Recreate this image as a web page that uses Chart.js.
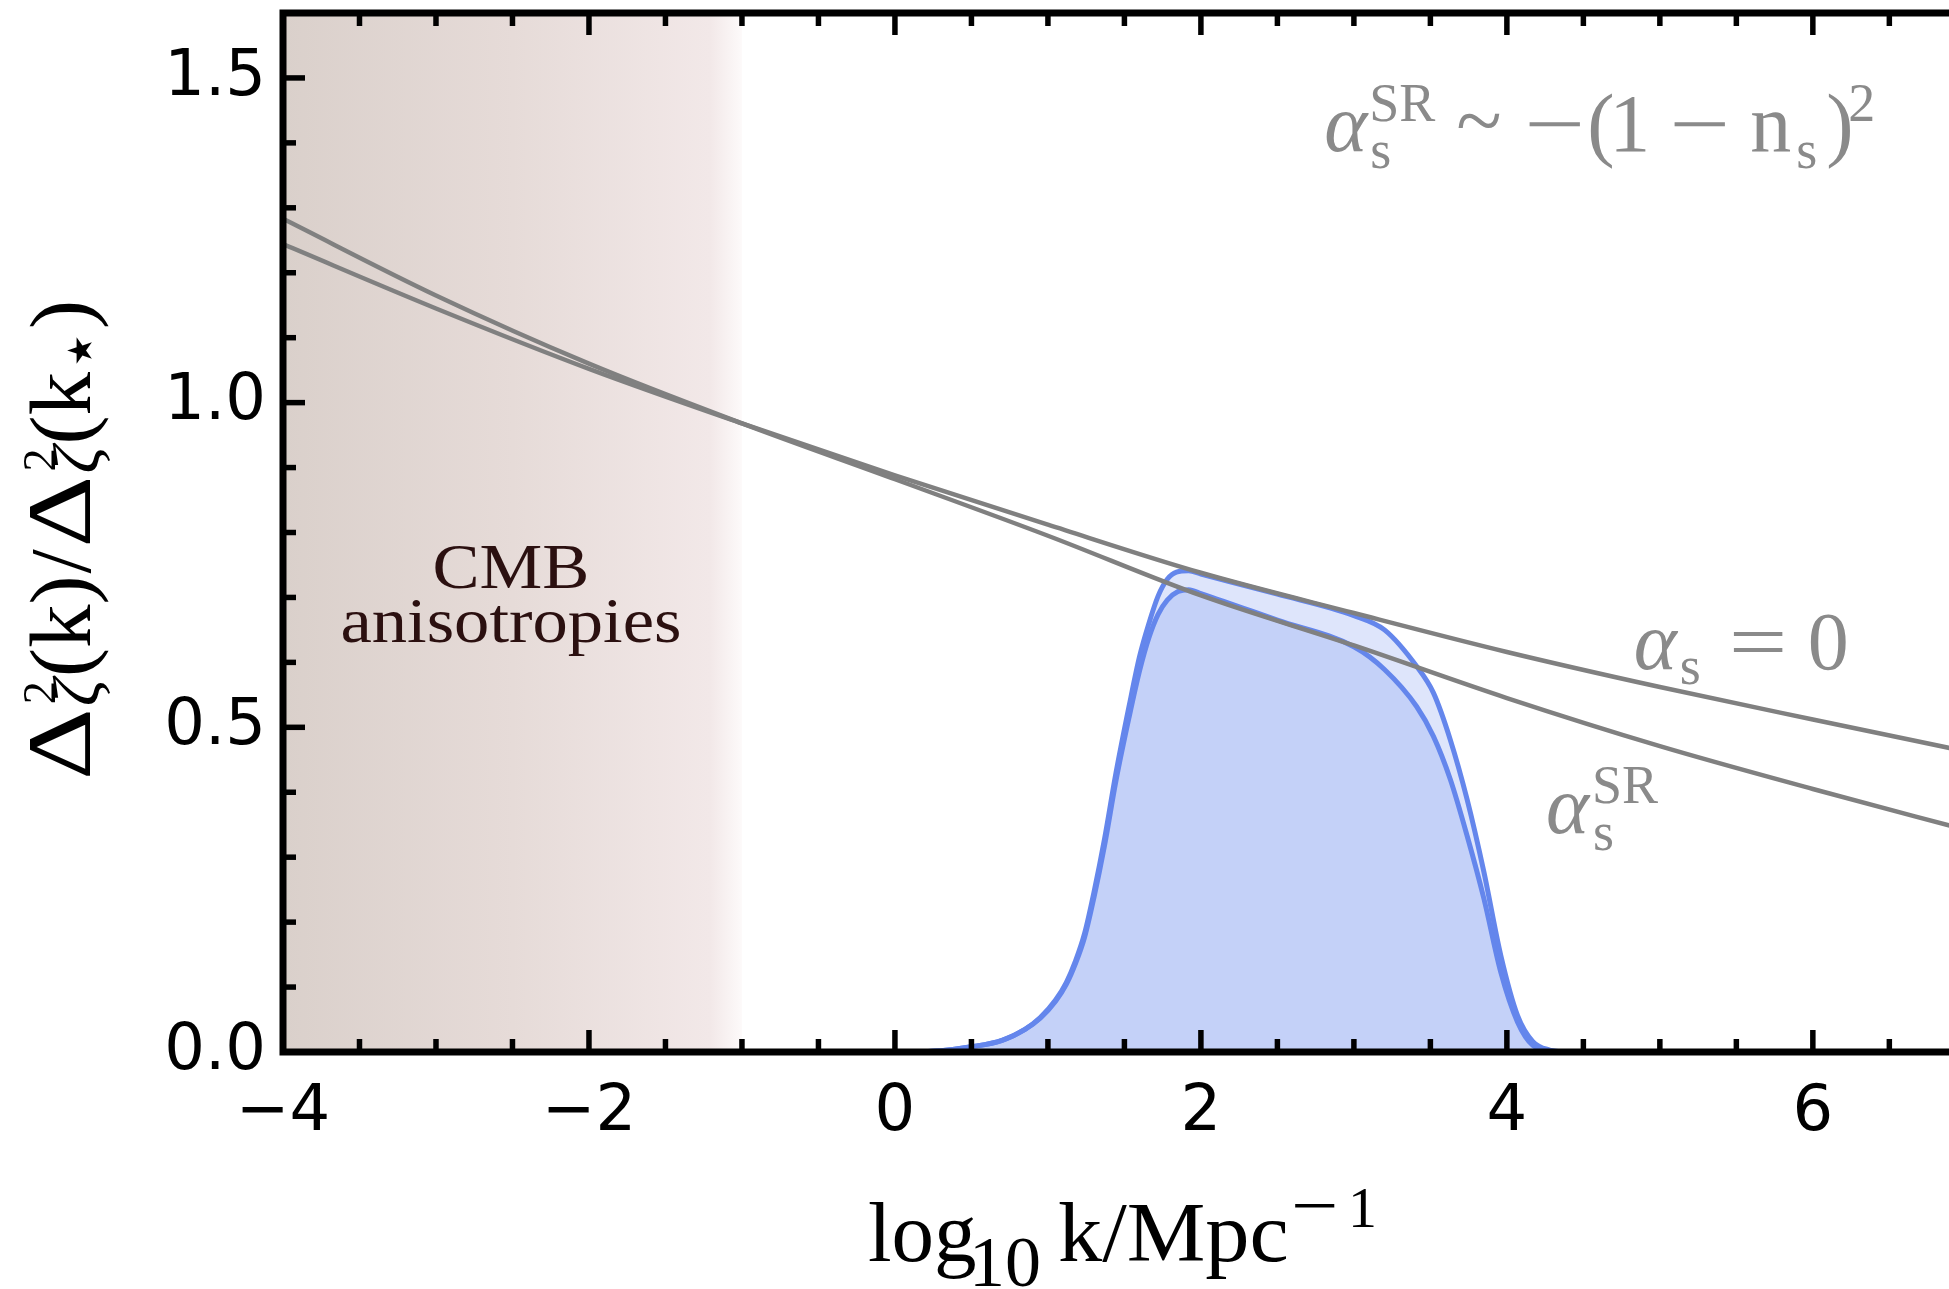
<!DOCTYPE html>
<html><head><meta charset="utf-8">
<script src="https://cdn.jsdelivr.net/npm/chart.js@4.4.1/dist/chart.umd.min.js"></script>
<style>html,body{margin:0;padding:0;background:#fff;overflow:hidden}canvas{display:block}</style>
</head><body>
<canvas id="c" width="1949" height="1289"></canvas>
<script>
// ---------------- data ----------------
const xGray     = [-4, -3, -2, -1, 0, 1, 2, 3, 4, 5, 6, 7];
const alphaZero = [1.244, 1.145, 1.052, 0.968, 0.888, 0.812, 0.738, 0.676, 0.616, 0.562, 0.512, 0.463];
const alphaSR   = [1.283, 1.165, 1.060, 0.968, 0.882, 0.795, 0.703, 0.626, 0.545, 0.471, 0.405, 0.342];

const xBlueOuter = [0, 0.3, 0.5, 0.7, 0.85, 0.95, 1.05, 1.12, 1.18, 1.24, 1.30, 1.37, 1.445, 1.53, 1.60, 1.66, 1.72, 1.78, 1.84, 1.92, 2.0, 2.5, 3.0, 3.2, 3.41, 3.52, 3.63, 3.74, 3.85, 3.96, 4.07, 4.17, 4.28, 4.4];
const blueOuter  = [0, 0.002, 0.008, 0.018, 0.035, 0.053, 0.080, 0.107, 0.140, 0.183, 0.245, 0.328, 0.430, 0.532, 0.610, 0.660, 0.702, 0.728, 0.739, 0.741, 0.736, 0.705, 0.672, 0.650, 0.594, 0.553, 0.481, 0.389, 0.277, 0.149, 0.056, 0.016, 0.003, 0];
const xBlueInner = [0, 0.3, 0.5, 0.7, 0.85, 0.95, 1.05, 1.12, 1.18, 1.24, 1.30, 1.37, 1.445, 1.53, 1.60, 1.66, 1.72, 1.78, 1.85, 1.92, 2.0, 2.5, 3.0, 3.2, 3.41, 3.52, 3.63, 3.74, 3.85, 3.96, 4.07, 4.17, 4.28, 4.4];
const blueInner  = [0, 0.002, 0.008, 0.018, 0.035, 0.052, 0.078, 0.104, 0.136, 0.177, 0.237, 0.318, 0.418, 0.515, 0.588, 0.638, 0.674, 0.696, 0.709, 0.712, 0.706, 0.665, 0.624, 0.589, 0.532, 0.486, 0.420, 0.333, 0.236, 0.123, 0.046, 0.010, 0.002, 0];

const cmbRange    = [-4, -1];
const xTickLabels = [-4, -2, 0, 2, 4, 6];
const yTickLabels = [0, 0.5, 1.0, 1.5];
const cmbText     = ['CMB', 'anisotropies'];

// ---------------- helpers ----------------
const SERIF = '"Liberation Serif", "DejaVu Serif", serif';
function font(p){ return (p.it ? 'italic ' : '') + p.f + 'px ' + (p.fam || SERIF); }
function drawPieces(ctx, x0, y0, pieces, color){
  ctx.save();
  ctx.translate(x0, y0);
  ctx.fillStyle = color; ctx.textBaseline = 'alphabetic'; ctx.textAlign = 'left';
  for (const p of pieces){
    ctx.save();
    ctx.translate(p.dx, p.dy || 0);
    ctx.scale(p.sx || 1, 1);
    ctx.font = font(p);
    ctx.fillText(p.t, 0, 0);
    ctx.restore();
  }
  ctx.restore();
}
function seqWidth(ctx, seq){
  let w = 0;
  for (const p of seq){
    w += p.gap || 0;
    if (p.stack){ let m = 0; for (const s of p.stack){ ctx.font = font(s); m = Math.max(m, ctx.measureText(s.t).width + (s.dx || 0)); } w += m; }
    else { ctx.font = font(p); w += ctx.measureText(p.t).width * (p.sx || 1); }
  }
  return w;
}
function drawSeq(ctx, seq, color){
  let x = 0;
  ctx.fillStyle = color; ctx.textBaseline = 'alphabetic'; ctx.textAlign = 'left';
  for (const p of seq){
    x += p.gap || 0;
    if (p.stack){
      let m = 0;
      for (const s of p.stack){ ctx.font = font(s); ctx.fillText(s.t, x + (s.dx || 0), s.dy || 0); m = Math.max(m, ctx.measureText(s.t).width + (s.dx || 0)); }
      x += m;
    } else {
      ctx.save(); ctx.translate(x, p.dy || 0); ctx.scale(p.sx || 1, 1);
      ctx.font = font(p); ctx.fillText(p.t, 0, 0);
      const w = ctx.measureText(p.t).width * (p.sx || 1);
      ctx.restore();
      x += w;
    }
  }
}

const GRAYTXT = '#8a8a8a';

const framePlugin = {
  id: 'frame',
  beforeDraw(chart){
    const {ctx, chartArea: a, scales: {x}} = chart;
    const x0 = x.getPixelForValue(cmbRange[0]), x1 = x.getPixelForValue(cmbRange[1]);
    const g = ctx.createLinearGradient(x0, 0, x1, 0);
    g.addColorStop(0, 'rgb(218,208,203)');
    g.addColorStop(0.5, 'rgb(230,219,216)');
    g.addColorStop(0.93, 'rgb(242,232,232)');
    g.addColorStop(1, 'rgb(253,250,250)');
    ctx.save(); ctx.fillStyle = g; ctx.fillRect(x0, a.top, x1 - x0, a.bottom - a.top); ctx.restore();
  },
  afterDatasetsDraw(chart){
    const {ctx, chartArea: a, scales: {x, y}} = chart;
    ctx.save();
    ctx.strokeStyle = '#000';
    const seg = (x1, y1, x2, y2) => { ctx.beginPath(); ctx.moveTo(x1, y1); ctx.lineTo(x2, y2); ctx.stroke(); };
    ctx.lineWidth = 5.5; ctx.lineCap = 'butt';
    for (let i = -8; i <= 14; i++){
      const px = x.getPixelForValue(i / 2);
      if (px > a.right + 1) continue;
      const L = (i % 4 === 0) ? 22 : 13;
      seg(px, a.bottom, px, a.bottom - L);
      seg(px, a.top, px, a.top + L);
    }
    for (let i = 0; i <= 16; i++){
      const py = y.getPixelForValue(i / 10);
      const L = (i % 5 === 0) ? 22 : 13;
      seg(a.left, py, a.left + L, py);
    }
    ctx.lineWidth = 7; ctx.lineCap = 'square'; ctx.lineJoin = 'miter';
    ctx.beginPath();
    ctx.moveTo(a.right + 10, a.top); ctx.lineTo(a.left, a.top); ctx.lineTo(a.left, a.bottom); ctx.lineTo(a.right + 10, a.bottom);
    ctx.stroke();

    // CMB anisotropies
    ctx.fillStyle = '#2b1010'; ctx.textAlign = 'center'; ctx.textBaseline = 'alphabetic';
    const cx = x.getPixelForValue(-2.51);
    [[cmbText[0], 0.714], [cmbText[1], 0.632]].forEach(([t, v]) => {
      ctx.save(); ctx.translate(cx, y.getPixelForValue(v)); ctx.scale(1.12, 1);
      ctx.font = '63px ' + SERIF; ctx.fillText(t, 0, 0); ctx.restore();
    });

    // alpha_s^SR ~ -(1 - n_s)^2
    drawPieces(ctx, x.getPixelForValue(2.819), y.getPixelForValue(1.3875), [
      {t:'α', f:82, it:true, dx:-2},
      {t:'SR', f:54, dx:43, dy:-30},
      {t:'s', f:54, dx:44, dy:17},
      {t:'~', f:84, dx:130, dy:-2},
      {t:'−', f:80, dx:198, sx:1.35},
      {t:'(', f:82, dx:261},
      {t:'1', f:82, dx:283},
      {t:'−', f:80, dx:343, sx:1.35},
      {t:'n', f:82, dx:424},
      {t:'s', f:54, dx:470, dy:17},
      {t:')', f:82, dx:500},
      {t:'2', f:54, dx:522, dy:-30}
    ], GRAYTXT);

    // alpha_s = 0
    drawPieces(ctx, x.getPixelForValue(4.842), y.getPixelForValue(0.590), [
      {t:'α', f:82, it:true, dx:-2},
      {t:'s', f:54, dx:44, dy:15},
      {t:'=', f:80, dx:93, sx:1.3},
      {t:'0', f:82, dx:172}
    ], GRAYTXT);

    // alpha_s^SR
    drawPieces(ctx, x.getPixelForValue(4.269), y.getPixelForValue(0.338), [
      {t:'α', f:82, it:true, dx:-2},
      {t:'SR', f:54, dx:44, dy:-30},
      {t:'s', f:54, dx:45, dy:17}
    ], GRAYTXT);

    // x axis title: log10 k/Mpc^-1
    drawPieces(ctx, a.left + 587, a.bottom + 209, [
      {t:'log', f:85, dx:-2},
      {t:'10', f:72, dx:99, dy:25},
      {t:'k/Mpc', f:85, dx:188, sx:1.04},
      {t:'−', f:70, dx:421, dy:-32, sx:1.2},
      {t:'1', f:58, dx:478, dy:-34}
    ], '#000');

    // y axis title (rotated)
    const stack = () => ({stack:[{t:'2', f:46, dy:-35, dx:2}, {t:'ζ', f:66, it:true, dy:9}], gap:2});
    const seq = [
      {t:'Δ', f:92, sx:1.2},
      stack(),
      {t:'(', f:86, gap:2},
      {t:'k', f:86},
      {t:')', f:86},
      {t:'/', f:86, gap:2},
      {t:'Δ', f:92, sx:1.2, gap:2},
      stack(),
      {t:'(', f:86, gap:2},
      {t:'k', f:86},
      {t:'⋆', f:68, dy:12, fam:'"DejaVu Sans"'},
      {t:')', f:86}
    ];
    const W = seqWidth(ctx, seq);
    const sc = 480 / W;
    ctx.save();
    ctx.translate(90, 540);
    ctx.rotate(-Math.PI / 2);
    ctx.scale(sc, 1);
    ctx.translate(-W / 2, 0);
    drawSeq(ctx, seq, '#000');
    ctx.restore();

    ctx.restore();
  }
};

const pts = (xs, ys) => xs.map((v, i) => ({x: v, y: ys[i]}));
const GRAY = '#808080', BLUE = '#6486ec', BLUEFILL = 'rgba(101,134,234,0.21)';

new Chart(document.getElementById('c'), {
  type: 'line',
  data: {
    datasets: [
      {label: 'α_s = 0', data: pts(xGray, alphaZero), borderColor: GRAY, borderWidth: 4.5, pointRadius: 0, fill: false, cubicInterpolationMode: 'monotone'},
      {label: 'α_s^SR', data: pts(xGray, alphaSR), borderColor: GRAY, borderWidth: 4.5, pointRadius: 0, fill: false, cubicInterpolationMode: 'monotone'},
      {label: 'bump (α_s = 0)', data: pts(xBlueOuter, blueOuter), borderColor: BLUE, borderWidth: 5, pointRadius: 0, fill: 'origin', backgroundColor: BLUEFILL, cubicInterpolationMode: 'monotone'},
      {label: 'bump (α_s^SR)', data: pts(xBlueInner, blueInner), borderColor: BLUE, borderWidth: 5, pointRadius: 0, fill: 'origin', backgroundColor: BLUEFILL, cubicInterpolationMode: 'monotone'}
    ]
  },
  options: {
    responsive: false, animation: false, devicePixelRatio: 1,
    layout: {padding: {top: 13, left: 0, right: 0, bottom: 0}},
    plugins: {legend: {display: false}, tooltip: {enabled: false}, filler: {drawTime: 'beforeDatasetsDraw'}},
    scales: {
      x: {
        type: 'linear', min: -4, max: 6.89,
        afterFit(s){ s.height = 237; s.paddingLeft = 0; s.paddingRight = 0; },
        afterBuildTicks(s){ s.ticks = xTickLabels.map(v => ({value: v})); },
        grid: {display: false, drawTicks: false}, border: {display: false},
        ticks: {autoSkip: false, maxRotation: 0, padding: 23, color: '#000',
          font: {family: '"DejaVu Sans"', size: 64},
          callback: v => (v < 0 ? '−' + Math.abs(v) : String(v))}
      },
      y: {
        type: 'linear', min: 0, max: 1.6,
        afterFit(s){ s.width = 283; s.paddingTop = 0; s.paddingBottom = 0; },
        afterBuildTicks(s){ s.ticks = yTickLabels.map(v => ({value: v})); },
        grid: {display: false, drawTicks: false}, border: {display: false},
        ticks: {autoSkip: false, padding: 17, color: '#000',
          font: {family: '"DejaVu Sans"', size: 64},
          callback: v => Number(v).toFixed(1)}
      }
    }
  },
  plugins: [framePlugin]
});
</script>
</body></html>
